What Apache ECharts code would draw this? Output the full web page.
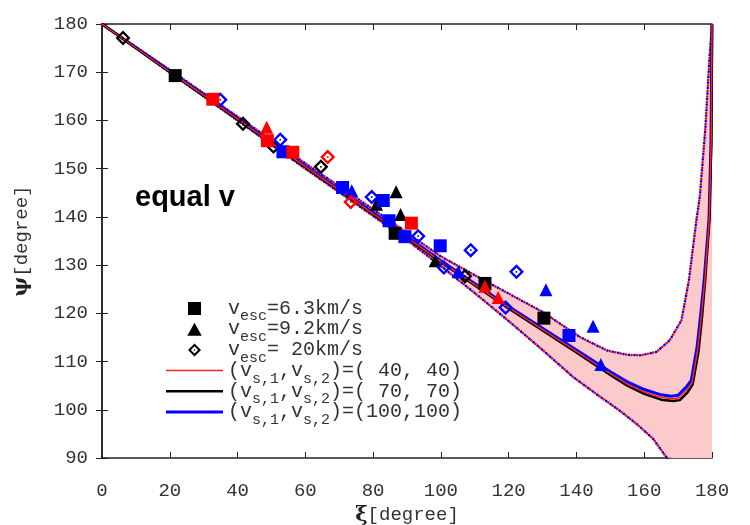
<!DOCTYPE html>
<html>
<head>
<meta charset="utf-8">
<script src="https://cdn.jsdelivr.net/npm/echarts@6/dist/echarts.min.js"></script>
<style>
  html, body { margin: 0; background: #fff; }
  #chart { width: 750px; height: 525px; }
</style>
</head>
<body>
<div id="chart"></div>
<script>
// model curves, (xi, psi) in degrees
const blueXi  = [0, 20, 40, 60, 80, 100, 120, 140, 150, 155, 160, 165, 168, 170, 172.4, 173.9, 175.6, 176.7, 177.7, 179.1, 179.7, 180];
const bluePsi = [180, 170.2, 160.4, 150.5, 140.9, 130.9, 121.4, 112.4, 107.9, 105.8, 104.2, 103.1, 102.8, 103.0, 104.7, 106.1, 113.0, 120.0, 127.0, 139.4, 155.0, 180];
const blackXi  = [0, 20, 40, 60, 80, 100, 120, 140, 150, 155, 160, 165, 168.5, 170.5, 172.8, 174.3, 176.0, 177.1, 178.0, 179.3, 179.8, 180];
const blackPsi = [180, 170.0, 160.2, 150.3, 140.6, 130.6, 121.0, 111.9, 107.2, 105.0, 103.3, 102.1, 101.8, 102.0, 103.6, 105.3, 112.0, 119.5, 127.0, 140.0, 156.0, 180];
const redXi  = [0, 20, 40, 60, 80, 100, 120, 140, 150, 155, 160, 165, 168.3, 170.3, 172.6, 174.1, 175.8, 176.9, 177.9, 179.2, 179.75, 180];
const redPsi = [180, 170.1, 160.3, 150.4, 140.7, 130.7, 121.2, 112.1, 107.5, 105.3, 103.7, 102.6, 102.3, 102.5, 104.1, 105.6, 112.5, 119.7, 127.0, 139.7, 155.5, 180];

// band limits
const upperXi  = [0, 20, 40, 60, 80, 100, 115, 130, 141, 149, 155, 159, 163.6, 167.5, 171, 173.2, 175.4, 176.4, 178, 179.3, 180];
const upperPsi = [180, 170.5, 160.8, 151.1, 141.6, 131.8, 126.0, 120.3, 115.1, 112.3, 111.4, 111.3, 112.0, 114.4, 118.6, 126.9, 139.3, 144.2, 158.0, 173.3, 180];
const lowerXi  = [0, 30, 60, 80, 90, 100, 110, 120, 130, 139, 146, 152.8, 157.7, 162.6, 166.5, 168.5];
const lowerPsi = [180, 165.0, 150.0, 140.2, 135.2, 129.8, 124.2, 118.4, 112.4, 106.8, 103.2, 99.8, 97.1, 94.0, 90.2, 87.5];

// measured points: v_esc = 6.3 (squares), 9.2 (triangles), 20 (diamonds) km/s
const sqBlack = [[21.6, 169.3], [86.5, 136.6], [113, 126.2], [130.4, 119.0]];
const sqRed   = [[32.7, 164.4], [48.8, 155.8], [56.3, 153.4], [91.3, 138.7]];
const sqBlue  = [[53.4, 153.5], [71, 146.1], [83, 143.4], [84.7, 139.2], [89.4, 135.9], [99.8, 134.0], [137.8, 115.4]];
const trBlack = [[81, 142.6], [86.8, 145.2], [88.1, 140.5], [98.3, 130.9]];
const trRed   = [[48.6, 158.6], [113, 125.6], [116.9, 123.3]];
const trBlue  = [[73.7, 145.4], [105.1, 128.6], [131, 124.9], [144.9, 117.3], [147.2, 109.4]];
const diBlack = [[6.2, 177.1], [41.6, 159.3], [50.6, 154.6], [64.6, 150.4], [107.1, 127.7]];
const diRed   = [[66.6, 152.4], [73.4, 143.1]];
const diBlue  = [[34.9, 164.3], [52.6, 156.0], [79.6, 144.1], [93.3, 136.0], [100.9, 129.5], [108.8, 133.1], [119.1, 121.2], [122.3, 128.6]];

const xTicks = [0, 180, 20];
const yTicks = [90, 180, 10];

const pairs = (xs, ys) => xs.map((x, i) => [x, ys[i]]);

const upper = pairs(upperXi, upperPsi);
const lower = pairs(lowerXi, lowerPsi);
// pink band: above lower limit, below upper limit, cut at the bottom of the frame
const bandPoly = upper.concat([[180, 90]], lower.slice().reverse().map(p => [p[0], Math.max(p[1], 90)]));

const square = 'path://M0,0H10V10H0Z';
const triangle = 'path://M5,0L10,9L0,9Z';
const diamond = 'path://M0,-10L10,0L0,10L-10,0ZM0,-5.6L-5.6,0L0,5.6L5.6,0ZM-1.1,-1.1L1.1,-1.1L1.1,1.1L-1.1,1.1Z';

const legendLabels = {
    sq: '{n|v}{s|esc}{n|=6.3km/s}',
    tr: '{n|v}{s|esc}{n|=9.2km/s}',
    di: '{n|v}{s|esc}{n|= 20km/s}',
    v40: '{n|(v}{s|s,1}{n|,v}{s|s,2}{n|)=( 40, 40)}',
    v70: '{n|(v}{s|s,1}{n|,v}{s|s,2}{n|)=( 70, 70)}',
    v100: '{n|(v}{s|s,1}{n|,v}{s|s,2}{n|)=(100,100)}'
};

const mono = 'Liberation Mono';

function pts(name, data, symbol, color, size) {
    return {
        name: name,
        type: 'scatter',
        data: data,
        symbol: symbol,
        symbolSize: size,
        itemStyle: { color: color, opacity: 1 },
        z: 5
    };
}

function curve(name, data, color, width, z) {
    return {
        name: name,
        type: 'line',
        data: data,
        symbol: 'none',
        lineStyle: { color: color, width: width },
        itemStyle: { color: color },
        z: z
    };
}

function dotted(data, color, offset) {
    return {
        type: 'line',
        data: data,
        symbol: 'none',
        silent: true,
        lineStyle: { color: color, width: 2.6, type: [0.1, 5.4], dashOffset: offset, cap: 'round' },
        z: 3
    };
}

const myChart = echarts.init(document.getElementById('chart'), null, { renderer: 'canvas' });

const option = {
    animation: false,
    backgroundColor: '#fff',
    grid: { left: 102, right: 38, top: 24, bottom: 67, containLabel: false, outerBoundsMode: 'none' },
    graphic: [{
        type: 'text',
        left: 135,
        top: 183,
        style: {
            text: 'equal v',
            font: 'bold 29px "Liberation Sans", Arial, sans-serif',
            fill: '#000'
        },
        z: 10
    }],
    legend: {
        orient: 'vertical',
        left: 161,
        top: 288,
        itemWidth: 57,
        itemHeight: 13,
        itemGap: -10.3,
        selectedMode: false,
        data: [
            { name: 'sq', icon: square },
            { name: 'tr', icon: triangle },
            { name: 'di', icon: diamond },
            { name: 'v40', icon: 'path://M0,0H57V1.5H0Z' },
            { name: 'v70', icon: 'path://M0,0H57V2.5H0Z' },
            { name: 'v100', icon: 'path://M0,0H57V3.2H0Z' }
        ],
        formatter: n => legendLabels[n],
        textStyle: {
            color: '#333',
            rich: {
                n: { fontFamily: mono, fontSize: 20, lineHeight: 20, color: '#333' },
                s: { fontFamily: mono, fontSize: 15, lineHeight: 14, padding: [16, 0, 0, 0], color: '#333' }
            }
        }
    },
    xAxis: [{
        type: 'value',
        min: xTicks[0], max: xTicks[1], interval: xTicks[2],
        name: '{g|ξ}{t|[degree]}',
        nameLocation: 'middle',
        nameGap: 40,
        nameTextStyle: {
            rich: {
                g: { fontFamily: 'DejaVu Serif', fontWeight: 'bold', fontSize: 21, color: '#222' },
                t: { fontFamily: mono, fontSize: 19, color: '#333' }
            }
        },
        axisLine: { lineStyle: { color: '#222', width: 1.5 } },
        axisTick: { inside: true, length: 6, lineStyle: { color: '#222' } },
        axisLabel: { fontFamily: mono, fontSize: 19, color: '#333', margin: 23 },
        splitLine: { show: false }
    }, {
        type: 'value', position: 'top',
        min: xTicks[0], max: xTicks[1], interval: xTicks[2],
        axisLine: { lineStyle: { color: '#222', width: 1.5 } },
        axisTick: { inside: true, length: 6, lineStyle: { color: '#222' } },
        axisLabel: { show: false },
        splitLine: { show: false }
    }],
    yAxis: [{
        type: 'value',
        min: yTicks[0], max: yTicks[1], interval: yTicks[2],
        name: '{g|ψ}{t|[degree]}',
        nameLocation: 'middle',
        nameGap: 70,
        nameTextStyle: {
            rich: {
                g: { fontFamily: 'DejaVu Serif', fontWeight: 'bold', fontSize: 21, color: '#222' },
                t: { fontFamily: mono, fontSize: 19, color: '#333' }
            }
        },
        axisLine: { lineStyle: { color: '#222', width: 1.5 } },
        axisTick: { inside: true, length: 6, lineStyle: { color: '#222' } },
        axisLabel: { fontFamily: mono, fontSize: 19, color: '#333', margin: 14 },
        splitLine: { show: false }
    }, {
        type: 'value', position: 'right',
        min: yTicks[0], max: yTicks[1], interval: yTicks[2],
        axisLine: { lineStyle: { color: '#222', width: 1.5 } },
        axisTick: { inside: true, length: 6, lineStyle: { color: '#222' } },
        axisLabel: { show: false },
        splitLine: { show: false }
    }],
    series: [
        {
            type: 'custom',
            silent: true,
            z: 1,
            data: [[0, 0]],
            renderItem: function (params, api) {
                return {
                    type: 'polygon',
                    shape: { points: bandPoly.map(p => api.coord(p)) },
                    style: { fill: '#fccaca' }
                };
            }
        },
        dotted(upper, '#ff0000', 0),
        dotted(upper, '#0000ff', 2.6),
        dotted(lower, '#ff0000', 0),
        dotted(lower, '#0000ff', 2.6),
        curve('v40', pairs(redXi, redPsi), '#ff2020', 1.5, 4.2),
        curve('v70', pairs(blackXi, blackPsi), '#000000', 2.5, 4.1),
        curve('v100', pairs(blueXi, bluePsi), '#0000ff', 3, 4.0),
        pts('sq', sqBlack, square, '#000000', 13),
        pts('tr', trBlack, triangle, '#000000', 13),
        pts('di', diBlack, diamond, '#000000', 15),
        pts('sq', sqBlue, square, '#0000ff', 13),
        pts('tr', trBlue, triangle, '#0000ff', 13),
        pts('di', diBlue, diamond, '#0000ff', 15),
        pts('sq', sqRed, square, '#ff0000', 13),
        pts('tr', trRed, triangle, '#ff0000', 13),
        pts('di', diRed, diamond, '#ff0000', 15)
    ]
};

myChart.setOption(option);
</script>
</body>
</html>
